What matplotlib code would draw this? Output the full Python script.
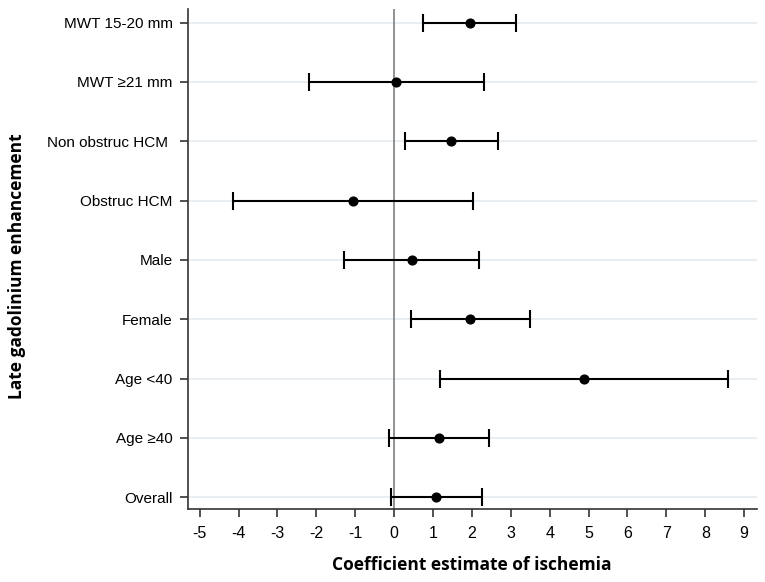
import matplotlib
matplotlib.use("Agg")
import matplotlib.pyplot as plt

# Datos, de arriba hacia abajo
grupos = ["MWT 15-20 mm", "MWT \u226521 mm", "Non obstruc HCM ", "Obstruc HCM", "Male",
          "Female", "Age <40", "Age \u226540", "Overall"]
coef = [1.94, 0.05, 1.47, -1.07, 0.45, 1.96, 4.87, 1.16, 1.07]
ic_inf = [0.75, -2.19, 0.27, -4.15, -1.28, 0.44, 1.17, -0.12, -0.09]
ic_sup = [3.14, 2.32, 2.68, 2.02, 2.17, 3.49, 8.59, 2.43, 2.25]
xticks = list(range(-5, 10))

plt.rcParams["font.family"] = ["Liberation Sans", "DejaVu Sans"]

fig = plt.figure(figsize=(7.65, 5.82), dpi=100)
ax = fig.add_axes([188 / 765, 73 / 582, (757 - 188) / 765, 500 / 582])

n = len(grupos)
pos = [n - 1 - i for i in range(n)]

for p in pos:
    ax.axhline(p, color="#e6edf0", lw=1.3, zorder=0)
ax.axvline(0, color="#7f7f7f", lw=1.2, zorder=1)

err = [[c - lo for c, lo in zip(coef, ic_inf)], [hi - c for c, hi in zip(coef, ic_sup)]]
ax.errorbar(coef, pos, xerr=err, fmt="o", color="black", ms=6.3, lw=1.5,
            capsize=6.5, capthick=1.5, zorder=3)

ax.set_xlim(-5.3, 9.33)
ax.set_ylim(-0.2, 8.23)
ax.set_xticks(xticks)
ax.set_xticklabels([str(t) for t in xticks])
ax.set_yticks(pos)
ax.set_yticklabels(grupos)
ax.tick_params(axis="both", labelsize=11, length=6, width=1.2, color="#333333")
ax.tick_params(axis="y", pad=5)
ax.tick_params(axis="x", pad=6, labelsize=11.5)

for s in ["top", "right"]:
    ax.spines[s].set_visible(False)
for s in ["left", "bottom"]:
    ax.spines[s].set_linewidth(1.2)
    ax.spines[s].set_color("#333333")

fig.text(472 / 765, 1 - 565 / 582, "Coefficient estimate of ischemia", ha="center", va="center",
         fontsize=12.5, fontweight="bold", family=["Open Sans", "DejaVu Sans"])
fig.text(17 / 765, 1 - 266 / 582, "Late gadolinium enhancement", ha="center", va="center",
         rotation=90, fontsize=12.5, fontweight="bold", family=["Open Sans", "DejaVu Sans"])

fig.savefig("out.png", dpi=100)
